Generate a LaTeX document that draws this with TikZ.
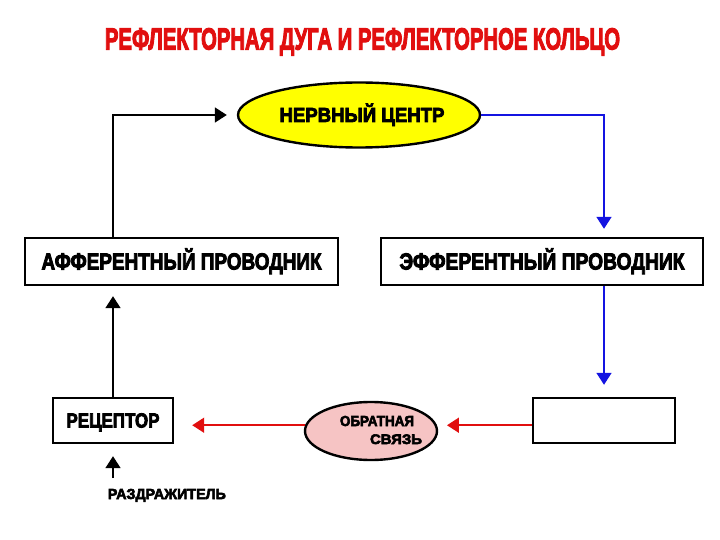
\documentclass[tikz,border=0pt]{standalone}
\usepackage{fontspec}
\setmainfont{Liberation Sans}[BoldFeatures={FakeBold=4}]
\usepackage{graphicx}
\usetikzlibrary{arrows.meta,positioning,shapes.geometric}
\definecolor{arcred}{RGB}{225,15,15}
\definecolor{effblue}{RGB}{20,20,225}
\definecolor{ctryellow}{RGB}{255,255,0}
\definecolor{fbpink}{RGB}{246,196,196}
% squeeze a caps label to a width and a cap height
\newcommand{\capsfit}[3]{\resizebox{#1}{#2}{\bfseries\smash{#3}\vphantom{H}}}

\begin{document}
\begin{tikzpicture}[x=1pt, y=-1pt, line width=1.8pt, >={Triangle[length=12pt,width=15pt]},
  box/.style={draw, line width=2.4pt, inner sep=0pt},
  oval/.style={ellipse, draw, line width=2.4pt, inner sep=0pt}]
  \useasboundingbox (0,0) rectangle (720,540);

  \node[text=arcred, inner sep=0pt] (title) at (362.5,39) {\capsfit{515pt}{21pt}{РЕФЛЕКТОРНАЯ ДУГА И РЕФЛЕКТОРНОЕ КОЛЬЦО}};

  % the arc
  \node[oval, fill=ctryellow, minimum width=242pt, minimum height=65pt] (ctr) at (359,115) {};
  \node[inner sep=0pt] (ctrtxt) at (362,115) {\capsfit{165pt}{14pt}{НЕРВНЫЙ ЦЕНТР}};
  \node[box, minimum width=313pt, minimum height=47pt] (aff) at (181.5,261.5) {\capsfit{280pt}{16pt}{АФФЕРЕНТНЫЙ ПРОВОДНИК}};
  \node[box, minimum width=322pt, minimum height=47pt] (eff) at (542,261.5) {\capsfit{285pt}{16pt}{ЭФФЕРЕНТНЫЙ ПРОВОДНИК}};
  \node[box, minimum width=120pt, minimum height=45pt] (rec) at (113,420.5) {\capsfit{93pt}{14pt}{РЕЦЕПТОР}};
  \node[box, minimum width=142pt, minimum height=45pt] (blank) at (604,420.5) {};
  \node[oval, fill=fbpink, minimum width=132pt, minimum height=58pt] (fb) at (371,431) {};
  \node[align=left, inner sep=0pt] (fbtxt) at (381,430) {\capsfit{74pt}{10pt}{ОБРАТНАЯ}\\[6pt]\hspace*{30pt}\capsfit{52pt}{9.5pt}{СВЯЗЬ}};
  \node[anchor=west, inner sep=0pt] (stim) at (107,494) {\capsfit{118pt}{10pt}{РАЗДРАЖИТЕЛЬ}};
  \coordinate (stimtail) at (113,478);

  % connectors
  \draw[->, shorten >=10pt] (aff.north -| rec) |- (ctr.west);
  \draw[->, effblue, shorten >=8pt] (ctr.east) -| (eff.north -| blank);
  \draw[->, effblue, shorten >=12pt] (eff.south -| blank) -- (blank.north);
  \draw[->, arcred, shorten >=10pt] (blank.west |- fb.5) -- (fb.5);
  \draw[->, arcred, shorten >=18pt] (fb.175) -- (fb.175 -| rec.east);
  \draw[->, shorten >=10pt] (rec.north) -- (aff.south -| rec);
  \draw[->, shorten >=12pt] (stimtail) -- (rec.south);
\end{tikzpicture}
\end{document}
